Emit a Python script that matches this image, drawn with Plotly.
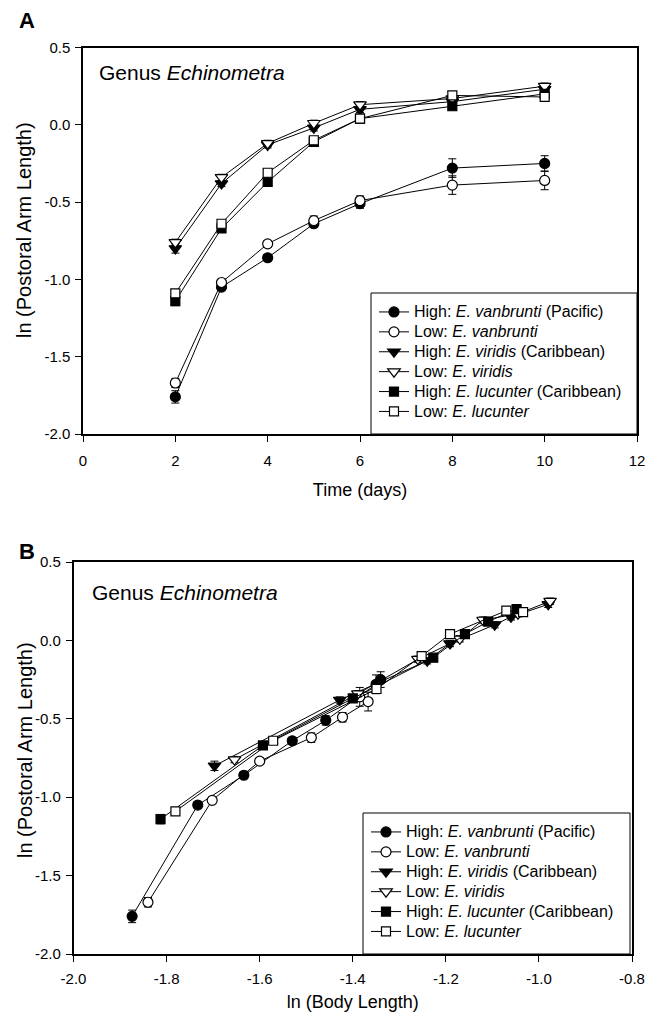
import plotly.graph_objects as go

# ---------------- data ----------------
time_days = [2, 3, 4, 5, 6, 8, 10]

series_names = [
    "High: <i>E. vanbrunti</i> (Pacific)",
    "Low: <i>E. vanbrunti</i>",
    "High: <i>E. viridis</i> (Caribbean)",
    "Low: <i>E. viridis</i>",
    "High: <i>E. lucunter</i> (Caribbean)",
    "Low: <i>E. lucunter</i>",
]

# ln(postoral arm length) per time point
arm_high_vanbrunti = [-1.76, -1.05, -0.86, -0.64, -0.51, -0.28, -0.25]
arm_low_vanbrunti = [-1.67, -1.02, -0.77, -0.62, -0.49, -0.39, -0.36]
arm_high_viridis = [-0.80, -0.38, -0.13, -0.02, 0.10, 0.15, 0.23]
arm_low_viridis = [-0.76, -0.34, -0.12, 0.01, 0.13, 0.17, 0.25]
arm_high_lucunter = [-1.14, -0.67, -0.37, -0.11, 0.04, 0.12, 0.20]
arm_low_lucunter = [-1.09, -0.64, -0.31, -0.10, 0.04, 0.19, 0.18]

# standard errors of arm length
err_high_vanbrunti = [0.04, 0.02, 0.02, 0.02, 0.03, 0.06, 0.05]
err_low_vanbrunti = [0.03, 0.02, 0.02, 0.03, 0.03, 0.06, 0.06]
err_high_viridis = [0.03, 0.02, 0.02, 0.02, 0.02, 0.02, 0.02]
err_low_viridis = [0.02, 0.02, 0.02, 0.02, 0.02, 0.02, 0.02]
err_high_lucunter = [0.03, 0.02, 0.02, 0.02, 0.02, 0.02, 0.02]
err_low_lucunter = [0.02, 0.02, 0.02, 0.02, 0.02, 0.02, 0.02]

# ln(body length) per time point
body_high_vanbrunti = [-1.874, -1.733, -1.634, -1.530, -1.458, -1.350, -1.340]
body_low_vanbrunti = [-1.840, -1.702, -1.600, -1.489, -1.422, -1.367, -1.385]
body_high_viridis = [-1.697, -1.428, -1.240, -1.191, -1.095, -1.060, -0.980]
body_low_viridis = [-1.654, -1.389, -1.260, -1.170, -1.120, -1.045, -0.976]
body_high_lucunter = [-1.813, -1.593, -1.400, -1.227, -1.159, -1.109, -1.048]
body_low_lucunter = [-1.781, -1.571, -1.349, -1.252, -1.191, -1.070, -1.034]

# axis ticks
ya_vals = [0.5, 0.0, -0.5, -1.0, -1.5, -2.0]
ya_text = ["0.5", "0.0", "-0.5", "-1.0", "-1.5", "-2.0"]
xa_vals = [0, 2, 4, 6, 8, 10, 12]
xa_text = ["0", "2", "4", "6", "8", "10", "12"]
xb_vals = [-2.0, -1.8, -1.6, -1.4, -1.2, -1.0, -0.8]
xb_text = ["-2.0", "-1.8", "-1.6", "-1.4", "-1.2", "-1.0", "-0.8"]

# ---------------- styling ----------------
arms = [arm_high_vanbrunti, arm_low_vanbrunti, arm_high_viridis,
        arm_low_viridis, arm_high_lucunter, arm_low_lucunter]
errs = [err_high_vanbrunti, err_low_vanbrunti, err_high_viridis,
        err_low_viridis, err_high_lucunter, err_low_lucunter]
bodies = [body_high_vanbrunti, body_low_vanbrunti, body_high_viridis,
          body_low_viridis, body_high_lucunter, body_low_lucunter]
symbols = ["circle", "circle-open", "triangle-down", "triangle-down-open",
           "square", "square-open"]
msize = [10, 10, 11, 11, 9, 9]

FONT = "Liberation Sans, Arial, Helvetica, sans-serif"
W, H = 641, 1004
OFF = 8  # page body margin


def px_x(p):
    return (p - OFF) / W


def px_y(p):
    return 1 - (p - OFF) / H


def legend_label(text):
    # larger glyphs inside a tighter legend row
    return '<span style="font-size:16px">%s</span>' % text


fig = go.Figure()

for panel, (xref_name, yref_name, legend_name) in enumerate(
        [("x", "y", "legend"), ("x2", "y2", "legend2")]):
    for i in range(6):
        xs = time_days if panel == 0 else bodies[i]
        open_sym = symbols[i].endswith("open")
        fig.add_trace(go.Scatter(
            x=xs, y=arms[i], name=legend_label(series_names[i]),
            xaxis=xref_name, yaxis=yref_name, legend=legend_name,
            mode="lines+markers",
            line=dict(color="black", width=1),
            marker=dict(symbol=symbols[i].replace("-open", "") if open_sym else symbols[i],
                        size=msize[i],
                        color="white" if open_sym else "black",
                        line=dict(color="black", width=1.2)),
            error_y=dict(type="data", array=errs[i], visible=True,
                         color="black", thickness=1, width=4),
        ))

axis_common = dict(
    showgrid=False, zeroline=False, showline=True, linecolor="black",
    linewidth=1.5, mirror=True, ticks="outside", ticklen=6, tickwidth=1,
    tickcolor="black", tickfont=dict(family=FONT, size=15, color="black"),
    automargin=False,
)
xtitle_font = dict(family=FONT, size=18, color="black")
legend_font = dict(family=FONT, size=13, color="black")

fig.update_layout(
    width=W, height=H,
    margin=dict(l=0, r=0, t=0, b=0, autoexpand=False),
    paper_bgcolor="white", plot_bgcolor="white",
    font=dict(family=FONT, color="black"),
    xaxis=dict(**axis_common, domain=[px_x(83), px_x(637)], range=[0, 12],
               tickvals=xa_vals, ticktext=xa_text, anchor="y", ticklabelstandoff=6,
               title=dict(text="Time (days)", font=xtitle_font, standoff=16)),
    yaxis=dict(**axis_common, domain=[px_y(434), px_y(47.5)], range=[-2.0, 0.5],
               tickvals=ya_vals, ticktext=ya_text, anchor="x", ticklabelstandoff=2),
    xaxis2=dict(**axis_common, domain=[px_x(73.5), px_x(632)], range=[-2.0, -0.8],
                tickvals=xb_vals, ticktext=xb_text, anchor="y2", ticklabelstandoff=4,
                title=dict(text="ln (Body Length)", font=xtitle_font, standoff=14)),
    yaxis2=dict(**axis_common, domain=[px_y(954), px_y(562)], range=[-2.0, 0.5],
                tickvals=ya_vals, ticktext=ya_text, anchor="x2", ticklabelstandoff=2),
    legend=dict(x=px_x(374), y=px_y(297), xanchor="left", yanchor="top",
                bgcolor="rgba(0,0,0,0)", borderwidth=0, font=legend_font,
                tracegroupgap=0, itemwidth=30),
    legend2=dict(x=px_x(366), y=px_y(817), xanchor="left", yanchor="top",
                 bgcolor="rgba(0,0,0,0)", borderwidth=0, font=legend_font,
                 tracegroupgap=0, itemwidth=30),
    showlegend=True,
)

# legend boxes
fig.add_shape(type="rect", xref="paper", yref="paper",
              x0=px_x(371), x1=px_x(637), y0=px_y(434), y1=px_y(293),
              line=dict(color="black", width=1), fillcolor="white", layer="above")
fig.add_shape(type="rect", xref="paper", yref="paper",
              x0=px_x(363), x1=px_x(630), y0=px_y(954), y1=px_y(813),
              line=dict(color="black", width=1), fillcolor="white", layer="above")

# y-axis titles
for cx, cy in ((24, 230), (25, 750)):
    fig.add_annotation(x=px_x(cx), y=px_y(cy), xref="paper", yref="paper",
                       xanchor="center", yanchor="middle", textangle=-90,
                       text="ln (Postoral Arm Length)", showarrow=False,
                       font=dict(family=FONT, size=20, color="black"))

# in-plot labels
for gx, gy in ((97, 73), (90, 592)):
    fig.add_annotation(x=px_x(gx), y=px_y(gy),
                       xref="paper", yref="paper", xanchor="left", yanchor="middle",
                       text="Genus <i>Echinometra</i>", showarrow=False,
                       font=dict(family=FONT, size=21, color="black"))
for letter, ly in (("A", 21), ("B", 551)):
    fig.add_annotation(x=px_x(17), y=px_y(ly), xref="paper", yref="paper",
                       xanchor="left", yanchor="middle", text="<b>%s</b>" % letter,
                       showarrow=False, font=dict(family=FONT, size=22, color="black"))

fig.write_html("out.html")
